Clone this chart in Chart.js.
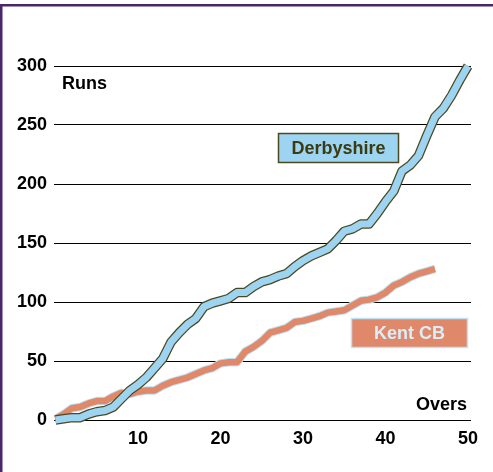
<!DOCTYPE html>
<html>
<head>
<meta charset="utf-8">
<script src="https://cdn.jsdelivr.net/npm/chart.js@4.4.1/dist/chart.umd.min.js"></script>
<style>
    html, body { margin: 0; padding: 0; background: #fff; }
    canvas { display: block; }
</style>
</head>
<body>
<canvas id="chart" width="493" height="472"></canvas>
<script>
// runs at the end of each over (index = over)
const derbyshireRuns = [0, 1, 2, 2, 5, 7, 8, 11, 18, 25, 30, 36, 44, 52, 66, 74, 81, 86, 96, 99,
    101, 103, 108, 108, 113, 117, 119, 122, 124, 130, 135, 139, 142, 145, 152, 160, 162, 166, 166, 175,
    185, 194, 211, 216, 224, 241, 257, 264, 275, 288, 300];
const kentRuns = [1, 5, 10, 11, 14, 16, 16, 20, 23, 22, 24, 25, 25, 29, 32, 34, 36, 39, 42, 44,
    48, 49, 49, 58, 62, 67, 74, 76, 78, 83, 84, 86, 88, 91, 92, 93, 97, 101, 102, 104,
    108, 114, 117, 121, 124, 126, 128];
const teams = ['Derbyshire', 'Kent CB'];
const overTicks = [10, 20, 30, 40, 50];
const runTicks = [0, 50, 100, 150, 200, 250, 300];
const axisTitles = { x: 'Overs', y: 'Runs' };

const FONT = '"Liberation Sans", Arial, sans-serif';
const colors = {
    derbyFill: '#9dd4f1',
    derbyEdge: '#4b4920',
    kentFill: '#e0896a',
    kentEdge: '#bfe3f6',
    frame: '#4a2868',
};

const toPoints = (runs) => runs.map((r, over) => ({ x: over, y: r }));

const lineSet = (label, runs, color, width, order) => ({
    label,
    data: toPoints(runs),
    borderColor: color,
    borderWidth: width,
    borderJoinStyle: 'round',
    borderCapStyle: 'butt',
    pointRadius: 0,
    tension: 0,
    clip: false,
    order,
});

const frame = {
    id: 'frame',
    beforeDraw(chart) {
        const { ctx, width, height } = chart;
        ctx.save();
        ctx.fillStyle = '#fff';
        ctx.fillRect(0, 0, width, height);
        ctx.fillStyle = colors.frame;
        ctx.fillRect(0, 4, width, 2.5);
        ctx.fillRect(0, 4, 2.5, height);
        ctx.restore();
    },
    afterDraw(chart) {
        const { ctx, chartArea } = chart;
        ctx.save();
        ctx.font = `bold 18px ${FONT}`;
        ctx.fillStyle = '#000';
        ctx.textBaseline = 'middle';
        ctx.textAlign = 'left';
        ctx.fillText(axisTitles.y, chartArea.left + 8, 84);
        ctx.textAlign = 'right';
        ctx.fillText(axisTitles.x, chartArea.right - 4, 405);

        const box = (text, x, y, w, h, fill, stroke, ink) => {
            ctx.fillStyle = fill;
            ctx.fillRect(x, y, w, h);
            ctx.strokeStyle = stroke;
            ctx.lineWidth = 1.5;
            ctx.strokeRect(x, y, w, h);
            ctx.fillStyle = ink;
            ctx.textAlign = 'center';
            ctx.fillText(text, x + w / 2, y + h / 2 + 1);
        };
        box(teams[0], 278.5, 133.5, 120, 29, colors.derbyFill, colors.derbyEdge, '#3c3a10');
        box(teams[1], 351.5, 318.5, 116, 29, colors.kentFill, colors.kentEdge, '#d9eef9');
        ctx.restore();
    },
};

new Chart(document.getElementById('chart'), {
    type: 'line',
    data: {
        datasets: [
            lineSet(teams[0], derbyshireRuns, colors.derbyFill, 7, 0),
            lineSet(teams[0] + ' edge', derbyshireRuns, colors.derbyEdge, 9.5, 1),
            lineSet(teams[1], kentRuns, colors.kentFill, 6.5, 2),
            lineSet(teams[1] + ' edge', kentRuns, colors.kentEdge, 8.5, 3),
        ],
    },
    options: {
        responsive: false,
        animation: false,
        devicePixelRatio: 1,
        layout: { padding: { top: 66, right: 22, bottom: 22, left: 0 } },
        plugins: { legend: { display: false }, tooltip: { enabled: false } },
        scales: {
            x: {
                type: 'linear',
                min: -0.18,
                max: 50.36,
                afterBuildTicks: (scale) => { scale.ticks = overTicks.map((v) => ({ value: v })); },
                afterFit: (scale) => { scale.height = 30; },
                grid: { display: false },
                border: { display: false },
                ticks: {
                    color: '#000',
                    font: { family: FONT, size: 18, weight: 'bold' },
                    padding: 0,
                    maxRotation: 0,
                    autoSkip: false,
                },
            },
            y: {
                min: 0,
                max: 300,
                afterBuildTicks: (scale) => { scale.ticks = runTicks.map((v) => ({ value: v })); },
                afterFit: (scale) => { scale.width = 54; },
                grid: { color: '#000', lineWidth: 1, drawTicks: false },
                border: { display: false },
                ticks: {
                    color: '#000',
                    font: { family: FONT, size: 18, weight: 'bold' },
                    padding: 7,
                },
            },
        },
    },
    plugins: [frame],
});
</script>
</body>
</html>
